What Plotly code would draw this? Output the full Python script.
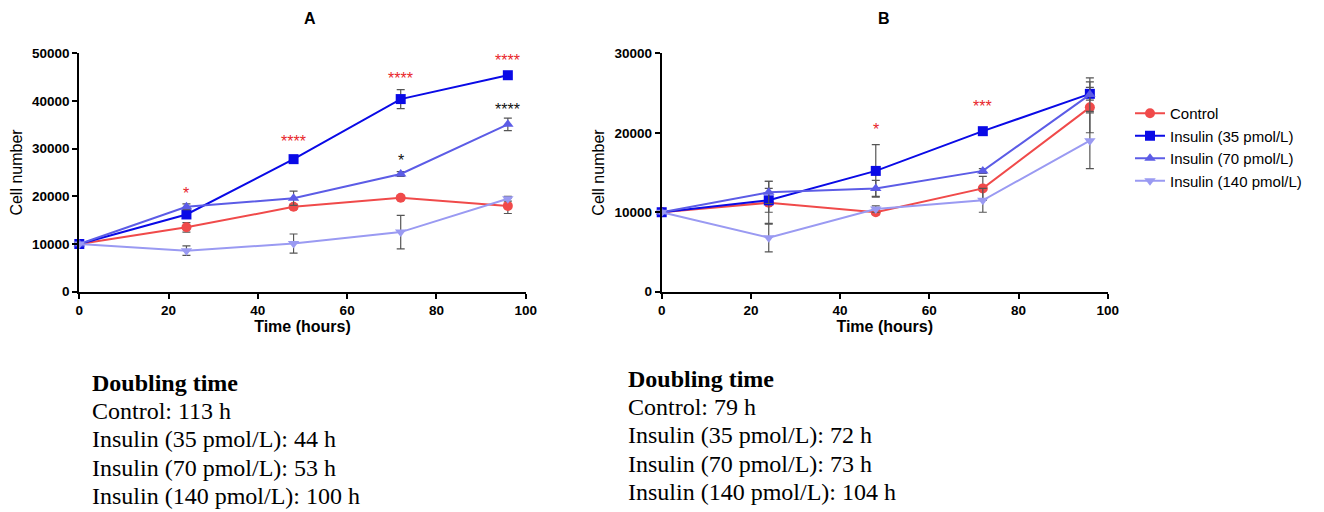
import plotly.graph_objects as go

# ---------------- data ----------------
time_h = [0, 24, 48, 72, 96]
series_names = ["Control", "Insulin (35 pmol/L)", "Insulin (70 pmol/L)", "Insulin (140 pmol/L)"]

# Panel A
a_control = [10000, 13500, 17800, 19700, 18000]
a_ins35 = [10000, 16200, 27800, 40400, 45400]
a_ins70 = [10000, 17800, 19600, 24700, 35100]
a_ins140 = [10000, 8600, 10100, 12500, 19500]
a_control_err = [0, 1000, 500, 400, 1600]
a_ins35_err = [0, 600, 400, 2000, 400]
a_ins70_err = [0, 600, 1500, 500, 1300]
a_ins140_err = [0, 1000, 2000, 3500, 500]

# Panel B
b_control = [10000, 11200, 10000, 13000, 23200]
b_ins35 = [10000, 11500, 15200, 20200, 24900]
b_ins70 = [10000, 12500, 13000, 15200, 24800]
b_ins140 = [10000, 6800, 10400, 11500, 19000]
b_control_err = [0, 2700, 300, 1500, 3200]
b_ins35_err = [0, 1500, 3300, 300, 800]
b_ins70_err = [0, 1400, 1000, 300, 2100]
b_ins140_err = [0, 1800, 400, 1500, 3500]

# significance marks
sig_a_x = [24, 48, 72, 96, 72, 96]
sig_a_y = [20700, 31400, 44700, 48400, 27500, 38200]
sig_a_text = ["*", "****", "****", "****", "*", "****"]
sig_a_color = ["red", "red", "red", "red", "black", "black"]
sig_b_x = [48, 72]
sig_b_y = [20400, 23300]
sig_b_text = ["*", "***"]
sig_b_color = ["red", "red"]

doubling_title = "Doubling time"
doubling_a = ["Control: 113 h", "Insulin (35 pmol/L): 44 h", "Insulin (70 pmol/L): 53 h", "Insulin (140 pmol/L): 100 h"]
doubling_b = ["Control: 79 h", "Insulin (35 pmol/L): 72 h", "Insulin (70 pmol/L): 73 h", "Insulin (140 pmol/L): 104 h"]

x_ticks = [0, 20, 40, 60, 80, 100]
y_ticks_a = [0, 10000, 20000, 30000, 40000, 50000]
y_ticks_b = [0, 10000, 20000, 30000]

# ---------------- styles ----------------
colors = ["#F04A4A", "#0A0AE6", "#5C5CE6", "#9A9AF2"]
symbols = ["circle", "square", "triangle-up", "triangle-down"]
sig_colors = {"red": "#E8262A", "black": "#111111"}
W, H = 1324, 512
OFF = 8  # page body margin in the browser


def px_x(px):
    return (px - OFF) / W


def px_y(py):
    return 1 - (py - OFF) / H


fig = go.Figure()

panels = [
    ("x", "y", [a_control, a_ins35, a_ins70, a_ins140],
     [a_control_err, a_ins35_err, a_ins70_err, a_ins140_err]),
    ("x2", "y2", [b_control, b_ins35, b_ins70, b_ins140],
     [b_control_err, b_ins35_err, b_ins70_err, b_ins140_err]),
]
for xa, ya, vals, errs in panels:
    for i in range(4):
        fig.add_trace(go.Scatter(
            x=time_h, y=vals[i], name=series_names[i], xaxis=xa, yaxis=ya,
            mode="lines+markers",
            line=dict(color=colors[i], width=2),
            marker=dict(symbol=symbols[i], size=10, color=colors[i]),
            error_y=dict(type="data", array=errs[i], visible=True,
                         color="#555555", thickness=1.2, width=4),
            cliponaxis=False,
            showlegend=(xa == "x2"),
        ))

annotations = []
for xs, ys, ts, cs, xr, yr in [(sig_a_x, sig_a_y, sig_a_text, sig_a_color, "x", "y"),
                               (sig_b_x, sig_b_y, sig_b_text, sig_b_color, "x2", "y2")]:
    for x, y, t, c in zip(xs, ys, ts, cs):
        annotations.append(dict(x=x, y=y, xref=xr, yref=yr, text=t, showarrow=False,
                                font=dict(family="Arial", size=16, color=sig_colors[c]),
                                yanchor="middle"))

# panel titles
for lbl, px in [("A", 302), ("B", 884)]:
    annotations.append(dict(x=px_x(px), y=px_y(18), xref="paper", yref="paper", text="<b>%s</b>" % lbl,
                            showarrow=False, yanchor="middle",
                            font=dict(family="Arial", size=16, color="black")))

# doubling time text blocks (one annotation per line)
for x0, y0, lines in [(90, 383, doubling_a), (626, 379, doubling_b)]:
    all_lines = ["<b>%s</b>" % doubling_title] + lines
    for k, line in enumerate(all_lines):
        annotations.append(dict(x=px_x(x0), y=px_y(y0 + 28.2 * k), xref="paper", yref="paper",
                                text=line, showarrow=False, xanchor="left", yanchor="middle",
                                align="left",
                                font=dict(family="Liberation Serif", size=24, color="black")))

axis_common = dict(showline=True, linecolor="black", linewidth=2, ticks="outside",
                   tickwidth=2, ticklen=5, tickcolor="black", showgrid=False, zeroline=False,
                   automargin=False,
                   tickfont=dict(family="Arial", size=13.5, color="black"))

ybot = px_y(291.7)
ytop = px_y(53.3)
title_font = dict(family="Arial", size=16, color="black")


def bold(vals):
    return ["<b>%d</b>" % v for v in vals]


fig.update_layout(
    width=W, height=H, margin=dict(l=0, r=0, t=0, b=0, autoexpand=False),
    paper_bgcolor="white", plot_bgcolor="white",
    font=dict(family="Arial", color="black"),
    xaxis=dict(domain=[px_x(79.3), px_x(525.7)], range=[0, 100], tickvals=x_ticks, ticktext=bold(x_ticks),
               title=dict(text="<b>Time (hours)</b>", font=title_font, standoff=2),
               anchor="y", **axis_common),
    yaxis=dict(domain=[ybot, ytop], range=[0, 50000], tickvals=y_ticks_a, ticktext=bold(y_ticks_a),
               title=dict(text="Cell number", font=title_font, standoff=6),
               anchor="x", **axis_common),
    xaxis2=dict(domain=[px_x(661.7), px_x(1107.7)], range=[0, 100], tickvals=x_ticks, ticktext=bold(x_ticks),
                title=dict(text="<b>Time (hours)</b>", font=title_font, standoff=2),
                anchor="y2", **axis_common),
    yaxis2=dict(domain=[ybot, ytop], range=[0, 30000], tickvals=y_ticks_b, ticktext=bold(y_ticks_b),
                title=dict(text="Cell number", font=title_font, standoff=6),
                anchor="x2", **axis_common),
    legend=dict(x=px_x(1130), y=px_y(97), xanchor="left", yanchor="top",
                font=dict(family="Arial", size=15, color="black"), tracegroupgap=0,
                itemwidth=30, bgcolor="rgba(0,0,0,0)"),
    annotations=annotations,
)

fig.write_html("out.html")
